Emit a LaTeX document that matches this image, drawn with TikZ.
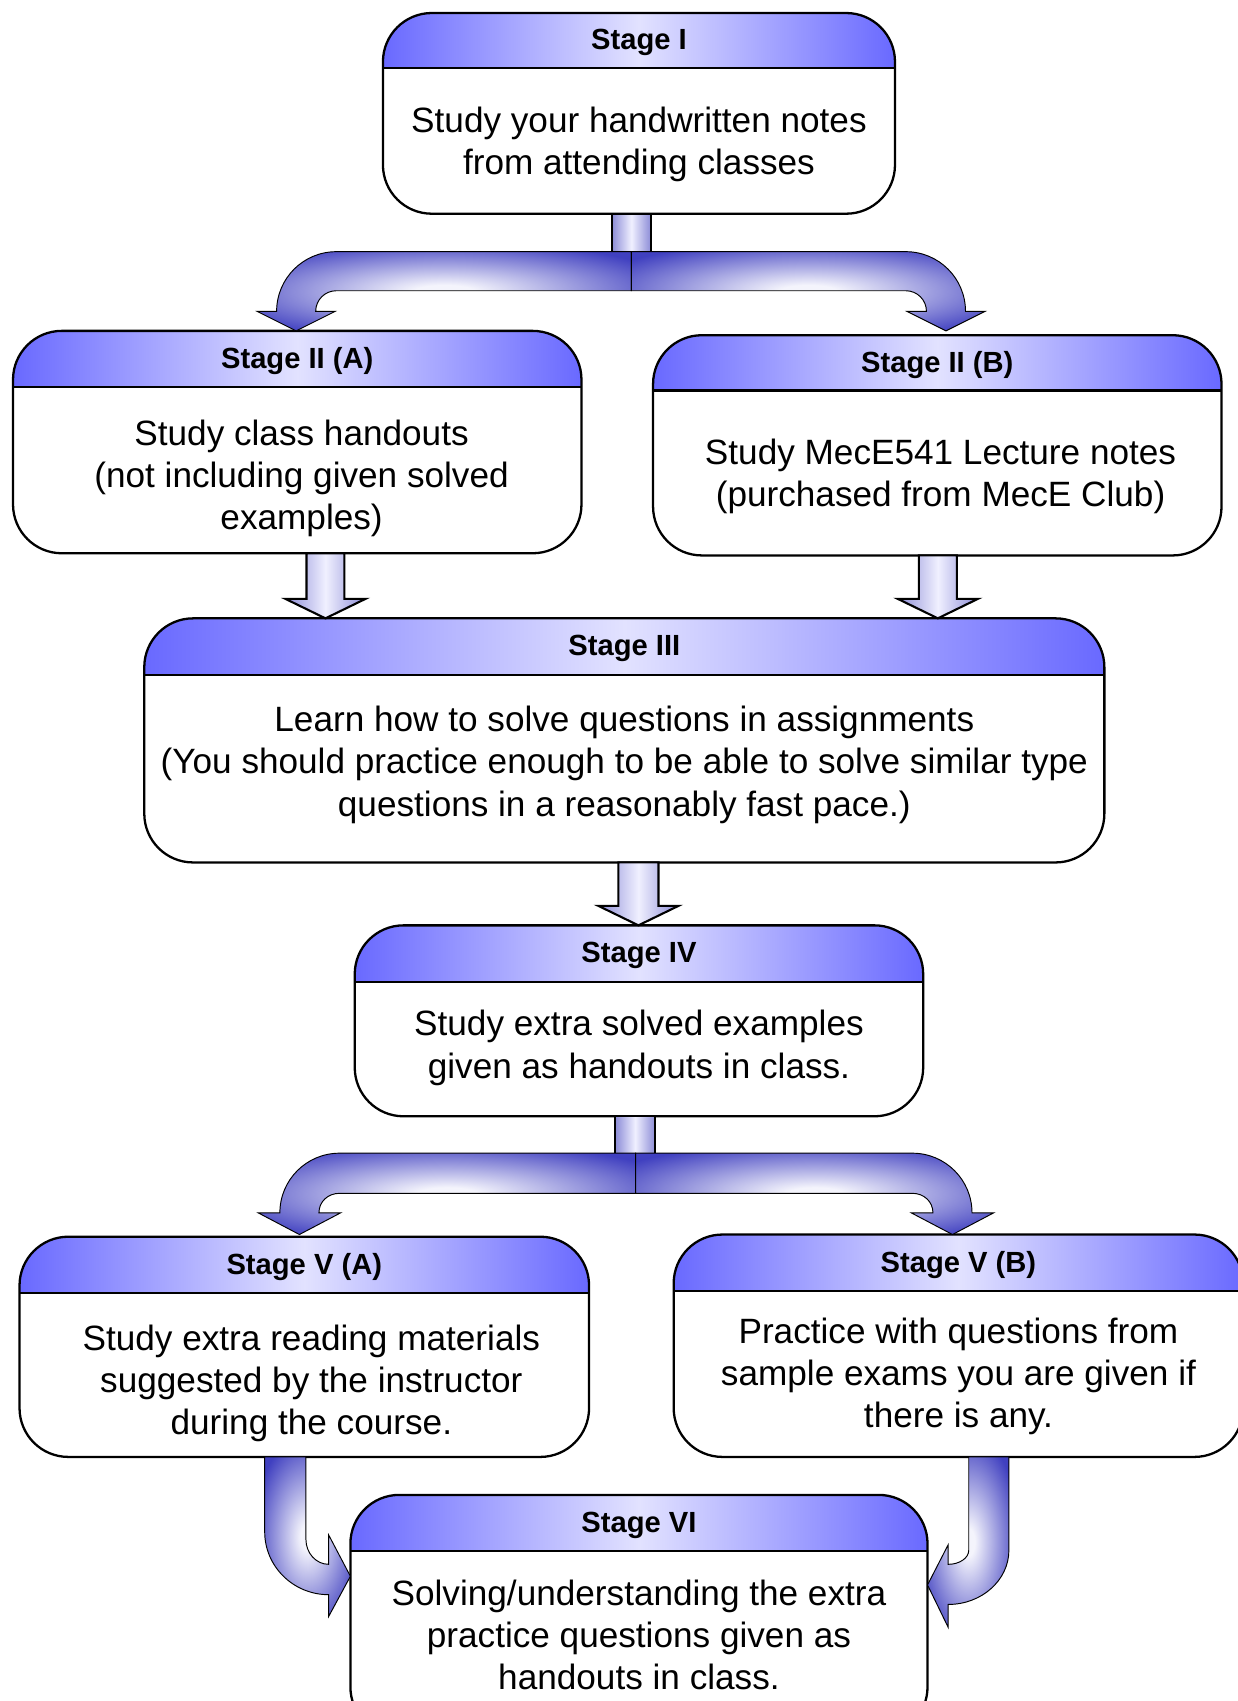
\documentclass[tikz,border=0pt]{standalone}
\usepackage{fontspec}
\setmainfont{Liberation Sans}
\usetikzlibrary{calc,fit}
\definecolor{hdedge}{RGB}{105,105,255}
\definecolor{hdmid}{RGB}{226,226,255}
\definecolor{arredge}{RGB}{140,140,215}
\definecolor{arrmid}{RGB}{240,240,255}
\definecolor{spdark}{RGB}{64,64,192}
\definecolor{splight}{RGB}{244,244,252}
\pgfdeclareradialshading{glow}{\pgfpointorigin}{color(0bp)=(splight); color(4bp)=(splight); color(32bp)=(spdark); color(50bp)=(spdark)}
\def\boxrad{0.9cm}
\tikzset{
  boxline/.style={line width=1.2pt, draw=black},
  titletext/.style={font=\fontsize{15.3}{18}\selectfont\bfseries, inner sep=0pt},
  bodytext/.style={font=\fontsize{18.45}{22.1}\selectfont, align=center, inner sep=0pt},
  dnarrowstyle/.style={draw=black, line width=1.1pt, line join=miter, left color=arredge, right color=arredge, middle color=arrmid},
  splitstyle/.style={draw=black, line width=0.5pt, shading=glow},
  curvestyle/.style={draw=black, line width=0.5pt, shading=glow},
}
\newcommand\stagebox[9]{%
  \coordinate (#1-nw) at (#2,#3);
  \coordinate (#1-se) at (#4,#5);
  \node[fit=(#1-nw)(#1-se), inner sep=0pt, outer sep=0pt] (#1) {};
  \fill[white, rounded corners=\boxrad] (#1.north west) rectangle (#1.south east);
  \begin{scope}
    \clip[rounded corners=\boxrad] (#1.north west) rectangle (#1.south east);
    \shade[left color=hdedge, right color=hdedge, middle color=hdmid] (#2,#3) rectangle (#4,#6);
  \end{scope}
  \draw[boxline] (#2,#6) -- (#4,#6);
  \draw[boxline, rounded corners=\boxrad] (#1.north west) rectangle (#1.south east);
  \node[titletext] (#1-title) at ({(#2+#4)/2},{(#3+#6)/2+2}) {#7};
  \node[bodytext] (#1-body) at (#9) {#8};
}
\newcommand\dnarrow[6]{%
  \coordinate (#1-#2-a) at (#3,0 |- #1.south);
  \coordinate (#1-#2-b) at (#3,0 |- #2.north);
  \path[dnarrowstyle] ($(#1-#2-a)+(-#4,0)$) -- ($(#1-#2-b)+(-#4,-#6)$) -- ($(#1-#2-b)+(-#5,-#6)$) -- (#1-#2-b) -- ($(#1-#2-b)+(#5,-#6)$) -- ($(#1-#2-b)+(#4,-#6)$) -- ($(#1-#2-a)+(#4,0)$) -- cycle;
}
\begin{document}
\begin{tikzpicture}[x=0.02cm,y=-0.02cm]
\useasboundingbox (0,0) rectangle (1141,1568);
\clip (0,0) rectangle (1141,1568);
\fill[white] (0,0) rectangle (1141,1568);

\stagebox{s1}{353}{12}{825}{197}{63}{Stage I}{Study your handwritten notes\\from attending classes}{589,133}
\stagebox{s2a}{12}{305}{536}{510}{357}{Stage II (A)}{Study class handouts\\(not including given solved\\examples)}{278,441}
\stagebox{s2b}{602}{309}{1126}{512}{360}{Stage II (B)}{Study MecE541 Lecture notes\\(purchased from MecE Club)}{867,439}
\stagebox{s3}{133}{570}{1018}{795}{622}{Stage III}{Learn how to solve questions in assignments\\(You should practice enough to be able to solve similar type\\questions in a reasonably fast pace.)}{575.5,705}
\stagebox{s4}{327}{853}{851}{1029}{905}{Stage IV}{Study extra solved examples\\given as handouts in class.}{589,966}
\stagebox{s5a}{18}{1140}{543}{1343}{1192}{Stage V (A)}{Study extra reading materials\\suggested by the instructor\\during the course.}{287,1275}
\stagebox{s5b}{621}{1138}{1146}{1343}{1190}{Stage V (B)}{Practice with questions from\\sample exams you are given if\\there is any.}{883.5,1269}
\stagebox{s6}{323}{1378}{855}{1600}{1430}{Stage VI}{Solving/understanding the extra\\practice questions given as\\handouts in class.}{589,1507}

% split arrow 1
\path[dnarrowstyle] (564,0 |- s1.south) rectangle (600,234);
\path[splitstyle] (582,232) -- (310,232) .. controls (279.6,232) and (255,256.6) .. (255,287) -- (237,287) -- (273,305) -- (309,287) -- (291,287) .. controls (291,276.5) and (299.5,268) .. (310,268) -- (582,268) -- cycle;
\path[splitstyle] (582,232) -- (835,232) .. controls (865.4,232) and (890,256.6) .. (890,287) -- (908,287) -- (872,305) -- (836,287) -- (854,287) .. controls (854,276.5) and (845.5,268) .. (835,268) -- (582,268) -- cycle;

% straight arrows
\dnarrow{s2a}{s3}{300}{17.5}{37}{18}
\dnarrow{s2b}{s3}{864.5}{17.5}{37}{18}
\dnarrow{s3}{s4}{588.5}{18.5}{37}{18}

% split arrow 2
\path[dnarrowstyle] (567,0 |- s4.south) rectangle (604,1065);
\path[splitstyle] (586,1063) -- (313,1063) .. controls (282.6,1063) and (258,1087.6) .. (258,1118) -- (238,1118) -- (276,1138) -- (314,1118) -- (294,1118) .. controls (294,1107.5) and (302.5,1100) .. (313,1100) -- (586,1100) -- cycle;
\path[splitstyle] (586,1063) -- (841,1063) .. controls (871.4,1063) and (896,1087.6) .. (896,1118) -- (916,1118) -- (878,1138) -- (840,1118) -- (860,1118) .. controls (860,1107.5) and (851.5,1100) .. (841,1100) -- (586,1100) -- cycle;

% curved arrows
\path[curvestyle] (244,0 |- s5a.south) -- (244,1412) .. controls (244,1444) and (270.4,1470) .. (303,1470) -- (303,1490) -- (323,1453) -- (303,1415) -- (303,1442) .. controls (291.4,1442) and (282,1431.7) .. (282,1419) -- (282,1343) -- cycle;
\path[curvestyle] (930,0 |- s5b.south) -- (930,1429) .. controls (930,1456.6) and (904.9,1479) .. (874,1479) -- (874,1500) -- (855,1461) -- (874,1424) -- (874,1442) .. controls (884.5,1442) and (893,1436.2) .. (893,1429) -- (893,1343) -- cycle;
\end{tikzpicture}
\end{document}
